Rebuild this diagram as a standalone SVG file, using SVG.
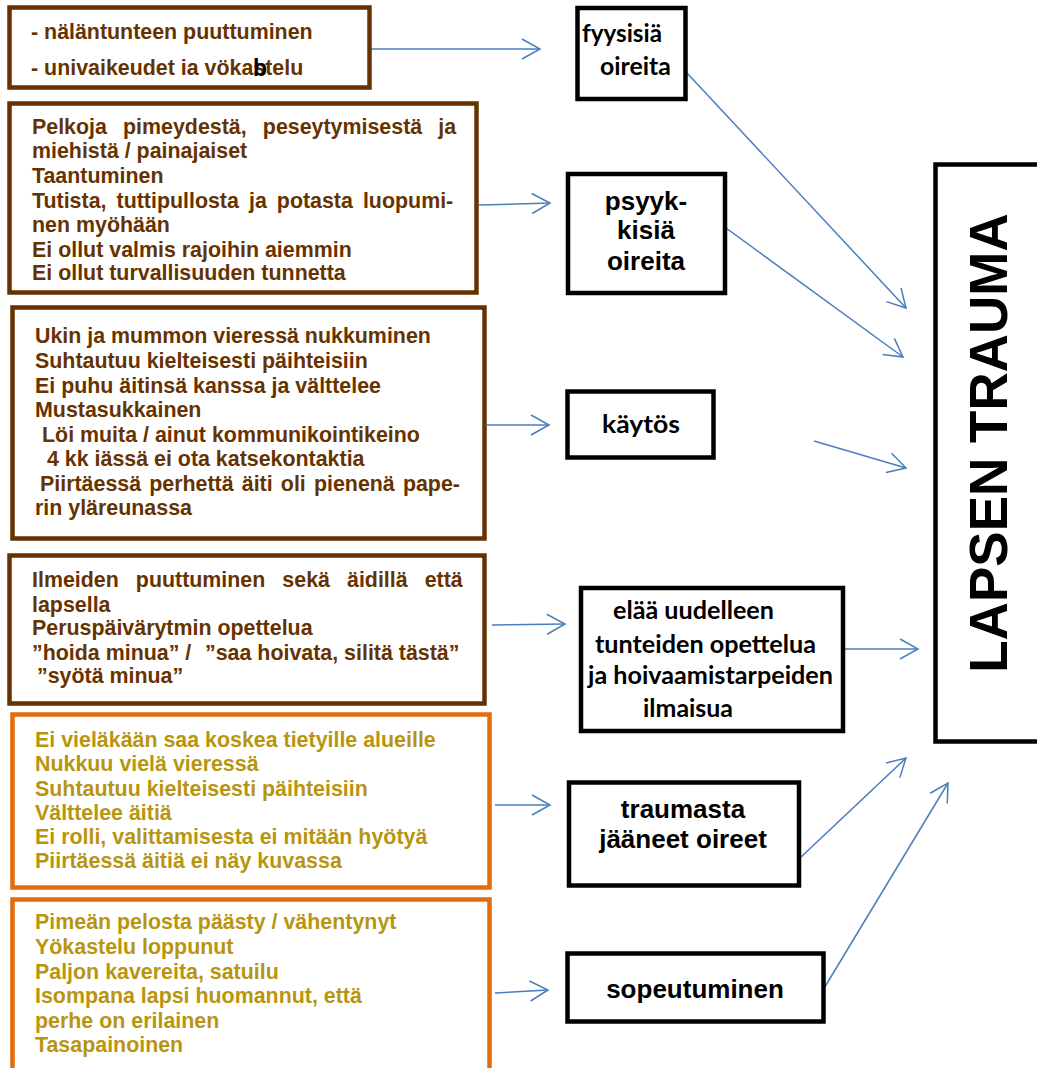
<svg xmlns="http://www.w3.org/2000/svg" width="1037" height="1068" viewBox="0 0 1037 1068">
<style>
.bx{fill:#fff;stroke:#663300;stroke-width:4.5}
.ob{fill:#fff;stroke:#E46C0A;stroke-width:4.5}
.kb{fill:#fff;stroke:#000;stroke-width:4.5}
.bt{font-family:"Liberation Sans",Arial,sans-serif;font-weight:bold;font-size:21.4px;fill:#663300}
.gt{font-family:"Liberation Sans",Arial,sans-serif;font-weight:bold;font-size:21.4px;fill:#B8950F}
.at{font-family:"Liberation Sans",Arial,sans-serif;font-weight:bold;font-size:26px;fill:#000;text-anchor:middle}
.ct{font-family:Lato,"Liberation Sans",sans-serif;font-weight:bold;font-size:24px;fill:#000}
.cn{fill:none;stroke:#4A7EBB;stroke-width:1.5;marker-end:url(#ah)}
</style>
<defs>
<marker id="ah" markerUnits="userSpaceOnUse" markerWidth="24" markerHeight="24" refX="20" refY="12" orient="auto" viewBox="0 0 24 24">
<path d="M2,2 L20,12 L2,22" fill="none" stroke="#4A7EBB" stroke-width="1.5"/>
</marker>
</defs>
<rect width="1037" height="1068" fill="#fff"/>

<g id="connectors">
<line class="cn" x1="371" y1="49" x2="540" y2="49"/>
<line class="cn" x1="479" y1="205" x2="550" y2="203"/>
<line class="cn" x1="487" y1="425" x2="549" y2="425"/>
<line class="cn" x1="492" y1="625" x2="565" y2="624"/>
<line class="cn" x1="495" y1="805" x2="550" y2="805"/>
<line class="cn" x1="495" y1="993" x2="548" y2="990"/>
<line class="cn" x1="687" y1="73" x2="906" y2="308"/>
<line class="cn" x1="726" y1="228" x2="903" y2="357"/>
<line class="cn" x1="814" y1="441" x2="906" y2="468"/>
<line class="cn" x1="845" y1="649" x2="918" y2="649"/>
<line class="cn" x1="800" y1="858" x2="906" y2="758"/>
<line class="cn" x1="823" y1="990" x2="948" y2="783"/>
</g>

<g id="box1">
<rect class="bx" x="9.5" y="7.5" width="360" height="80"/>
<text class="bt" x="31" y="39">- näläntunteen puuttuminen</text>
<text class="bt" x="31" y="75">- univaikeudet ia vökastelu</text>
<text x="253" y="76" font-family="Liberation Sans,Arial,sans-serif" font-weight="bold" font-size="23" fill="#000">b</text>
</g>

<g id="box2">
<rect class="bx" x="9.5" y="103.5" width="467" height="189"/>
<text class="bt" x="32" y="134" word-spacing="10.2">Pelkoja pimeydestä, peseytymisestä ja</text>
<text class="bt" x="32" y="158">miehistä / painajaiset</text>
<text class="bt" x="32" y="183">Taantuminen</text>
<text class="bt" x="32" y="208" word-spacing="4.1">Tutista, tuttipullosta ja potasta luopumi-</text>
<text class="bt" x="32" y="232">nen myöhään</text>
<text class="bt" x="32" y="257">Ei ollut valmis rajoihin aiemmin</text>
<text class="bt" x="32" y="280">Ei ollut turvallisuuden tunnetta</text>
</g>

<g id="box3">
<rect class="bx" x="12.5" y="307.5" width="472" height="231"/>
<text class="bt" x="35" y="343">Ukin ja mummon vieressä nukkuminen</text>
<text class="bt" x="35" y="368">Suhtautuu kielteisesti päihteisiin</text>
<text class="bt" x="35" y="393">Ei puhu äitinsä kanssa ja välttelee</text>
<text class="bt" x="35" y="417">Mustasukkainen</text>
<text class="bt" x="42" y="442">Löi muita / ainut kommunikointikeino</text>
<text class="bt" x="47" y="466">4 kk iässä ei ota katsekontaktia</text>
<text class="bt" x="40" y="491" word-spacing="2.2">Piirtäessä perhettä äiti oli pienenä pape-</text>
<text class="bt" x="35" y="515">rin yläreunassa</text>
</g>

<g id="box4">
<rect class="bx" x="9.5" y="555.5" width="475" height="148"/>
<text class="bt" x="32" y="587" word-spacing="11.1">Ilmeiden puuttuminen sekä äidillä että</text>
<text class="bt" x="32" y="612">lapsella</text>
<text class="bt" x="32" y="635">Peruspäivärytmin opettelua</text>
<text class="bt" y="660"><tspan x="32">”hoida minua” /</tspan><tspan x="205">”saa hoivata, silitä tästä”</tspan></text>
<text class="bt" x="37" y="683">”syötä minua”</text>
</g>

<g id="box5">
<rect class="ob" x="12.5" y="714.5" width="477" height="173"/>
<text class="gt" x="35" y="747">Ei vieläkään saa koskea tietyille alueille</text>
<text class="gt" x="35" y="771">Nukkuu vielä vieressä</text>
<text class="gt" x="35" y="796">Suhtautuu kielteisesti päihteisiin</text>
<text class="gt" x="35" y="820">Välttelee äitiä</text>
<text class="gt" x="35" y="844">Ei rolli, valittamisesta ei mitään hyötyä</text>
<text class="gt" x="35" y="868">Piirtäessä äitiä ei näy kuvassa</text>
</g>

<g id="box6">
<rect class="ob" x="12.5" y="899.5" width="477" height="200"/>
<text class="gt" x="35" y="929">Pimeän pelosta päästy / vähentynyt</text>
<text class="gt" x="35" y="954">Yökastelu loppunut</text>
<text class="gt" x="35" y="979">Paljon kavereita, satuilu</text>
<text class="gt" x="35" y="1003">Isompana lapsi huomannut, että</text>
<text class="gt" x="35" y="1028">perhe on erilainen</text>
<text class="gt" x="35" y="1052">Tasapainoinen</text>
</g>

<g id="fyysisia">
<rect class="kb" x="577.5" y="8" width="108" height="91"/>
<text class="ct" x="582" y="42" textLength="80" lengthAdjust="spacingAndGlyphs">fyysisiä</text>
<text class="ct" x="600" y="75" textLength="71" lengthAdjust="spacingAndGlyphs">oireita</text>
</g>

<g id="psyykkisia">
<rect class="kb" x="568" y="174" width="157" height="119"/>
<text class="at" x="646" y="210">psyyk-</text>
<text class="at" x="646" y="239">kisiä</text>
<text class="at" x="646" y="270">oireita</text>
</g>

<g id="kaytos">
<rect class="kb" x="567.5" y="391.5" width="146" height="66"/>
<text class="ct" x="602" y="433" textLength="78" lengthAdjust="spacingAndGlyphs">käytös</text>
</g>

<g id="elaa">
<rect class="kb" x="581" y="588" width="262" height="143"/>
<text class="ct" x="613" y="619" textLength="161" lengthAdjust="spacingAndGlyphs">elää uudelleen</text>
<text class="ct" x="595" y="653" textLength="221" lengthAdjust="spacingAndGlyphs">tunteiden opettelua</text>
<text class="ct" x="588" y="684" textLength="245" lengthAdjust="spacingAndGlyphs">ja hoivaamistarpeiden</text>
<text class="ct" x="643" y="717" textLength="90" lengthAdjust="spacingAndGlyphs">ilmaisua</text>
</g>

<g id="traumasta">
<rect class="kb" x="569" y="782.5" width="230" height="103"/>
<text class="at" x="683" y="818">traumasta</text>
<text class="at" x="683" y="848">jääneet oireet</text>
</g>

<g id="sopeutuminen">
<rect class="kb" x="567.5" y="953.5" width="256" height="68"/>
<text class="at" x="695" y="998">sopeutuminen</text>
</g>

<g id="lapsen-trauma">
<rect class="kb" x="935.5" y="164.5" width="110" height="577"/>
<text x="0" y="0" transform="translate(1007,443) rotate(-90)" font-family="Liberation Sans,Arial,sans-serif" font-weight="bold" font-size="53" text-anchor="middle" fill="#000">LAPSEN TRAUMA</text>
</g>
</svg>
